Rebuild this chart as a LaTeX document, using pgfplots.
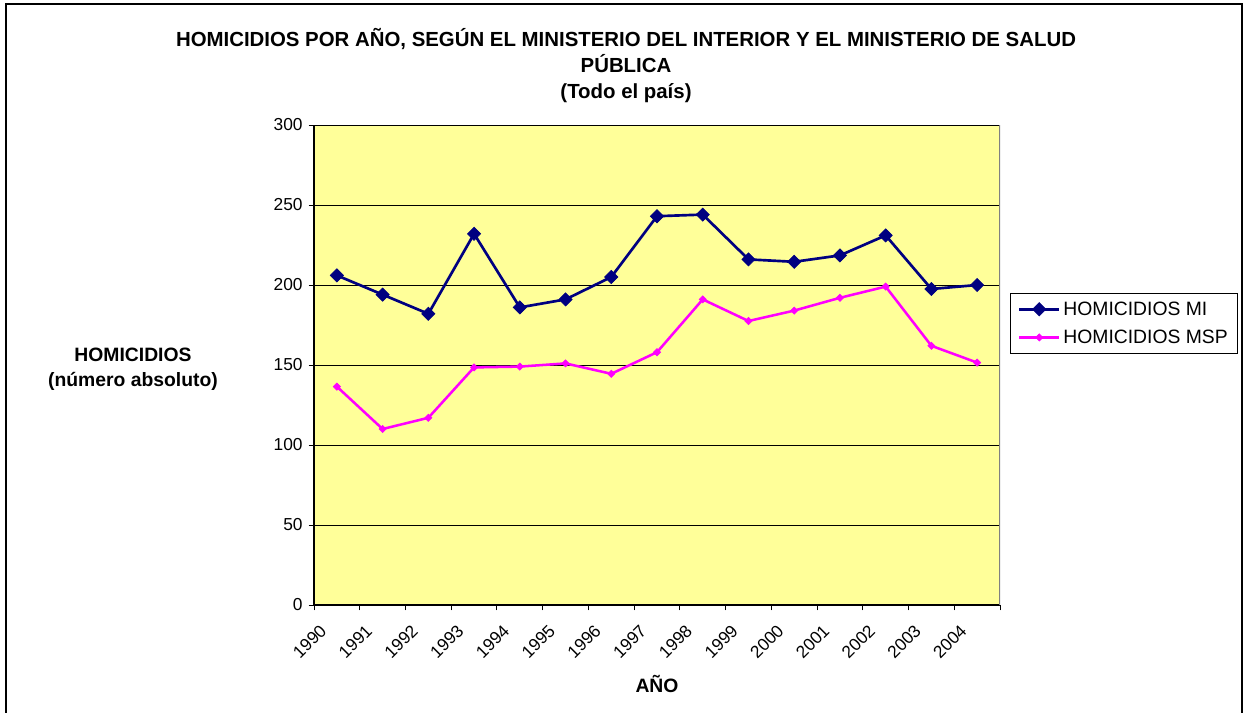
\documentclass[border=0pt]{standalone}
\usepackage{fontspec}
\setmainfont{Liberation Sans}
\usepackage{pgfplots}
\pgfplotsset{compat=1.18}
\definecolor{navyMI}{HTML}{000080}
\definecolor{magMSP}{HTML}{FF00FF}
\definecolor{plotbg}{HTML}{FFFF99}
\begin{document}
\begin{tikzpicture}
\begin{scope}[x=0.75pt,y=-0.75pt]
\useasboundingbox (0,0) rectangle (1246,713);
\draw[line width=1.1pt] (6,4) rectangle (1242,716);
\node[anchor=base,font=\fontsize{15.3}{18}\bfseries\selectfont,inner sep=0pt] at (626,47) {HOMICIDIOS POR AÑO, SEGÚN EL MINISTERIO DEL INTERIOR Y EL MINISTERIO DE SALUD};
\node[anchor=base,font=\fontsize{15.3}{18}\bfseries\selectfont,inner sep=0pt] at (626,73) {PÚBLICA};
\node[anchor=base,font=\fontsize{15.3}{18}\bfseries\selectfont,inner sep=0pt] at (626,99) {(Todo el país)};
\node[anchor=base,font=\fontsize{14.5}{17}\bfseries\selectfont,inner sep=0pt] at (133,361) {HOMICIDIOS};
\node[anchor=base,font=\fontsize{14.5}{17}\bfseries\selectfont,inner sep=0pt] at (133,386) {(número absoluto)};
\node[anchor=base,font=\fontsize{14.5}{17}\bfseries\selectfont,inner sep=0pt] at (657,692) {AÑO};
\end{scope}
\begin{axis}[
  at={(235.5pt,-453.75pt)}, anchor=south west,
  width=514.5pt, height=360pt, scale only axis,
  xmin=-0.5, xmax=14.5, ymin=0, ymax=300,
  axis background/.style={fill=plotbg},
  axis x line*=bottom, axis y line*=left,
  axis line style={black, line width=0.9pt},
  ytick={0,50,100,150,200,250,300},
  ymajorgrids, grid style={black, line width=0.75pt},
  xtick={-0.5,0.5,1.5,2.5,3.5,4.5,5.5,6.5,7.5,8.5,9.5,10.5,11.5,12.5,13.5,14.5},
  xticklabels={},
  extra x ticks={0,1,2,3,4,5,6,7,8,9,10,11,12,13,14},
  extra x tick labels={1990,1991,1992,1993,1994,1995,1996,1997,1998,1999,2000,2001,2002,2003,2004},
  extra x tick style={major tick length=0pt, tick label style={xshift=-13.5pt, yshift=-9pt, rotate=45, anchor=north east}},
  tick align=outside, major tick length=4pt,
  tick style={black, line width=0.75pt},
  tick label style={font=\fontsize{13}{15}\selectfont},
  yticklabel style={xshift=-1pt},
  /pgf/number format/assume math mode=true,
  legend style={at={(1.0146,0.65)}, anchor=north west, draw=black, line width=0.75pt, fill=white,
    font=\fontsize{14.5}{17}\selectfont, inner xsep=5.5pt, inner ysep=4pt, row sep=5.5pt},
  legend cell align=left,
  legend image code/.code={\draw[mark repeat=2,mark phase=2] plot coordinates {(0cm,0cm) (0.53cm,0cm) (1.06cm,0cm)};},
]
\addplot[navyMI, line width=2pt, mark=square*, mark size=3.5pt, mark options={rotate=45, solid, line width=0.5pt}]
coordinates {(0,206) (1,194) (2,182) (3,232) (4,186) (5,191) (6,205) (7,243) (8,244) (9,216) (10,214.5) (11,218.5) (12,231) (13,197.5) (14,200)};
\addlegendentry{HOMICIDIOS MI}
\addplot[magMSP, line width=1.9pt, mark=square*, mark size=1.9pt, mark options={rotate=45, solid, line width=0.5pt}]
coordinates {(0,136.5) (1,110) (2,117) (3,148.5) (4,149) (5,151) (6,144.5) (7,158) (8,191) (9,177.5) (10,184) (11,192) (12,199) (13,162) (14,151.5)};
\addlegendentry{HOMICIDIOS MSP}
\draw[gray, line width=0.9pt] (rel axis cs:1,0) -- (rel axis cs:1,1);
\end{axis}
\end{tikzpicture}
\end{document}
